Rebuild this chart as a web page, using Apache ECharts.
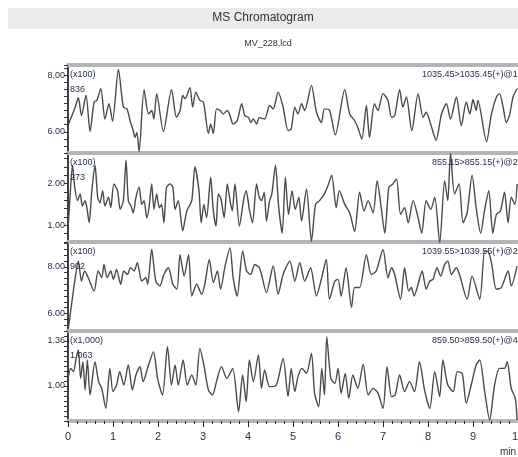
<!DOCTYPE html>
<html><head><meta charset="utf-8">
<script src="https://cdn.jsdelivr.net/npm/echarts@6/dist/echarts.min.js"></script>
<style>html,body{margin:0;padding:0;background:#fff}#c{width:518px;height:457px}</style>
</head><body><div id="c"></div>
<script>
// ---- data ----
const t1=[0.01,0.16,0.23,0.30,0.40,0.49,0.58,0.64,0.73,0.82,0.91,0.99,1.12,1.23,1.31,1.38,1.45,1.49,1.53,1.58,1.69,1.79,1.86,1.91,1.97,2.12,2.30,2.41,2.49,2.55,2.60,2.71,2.77,2.84,2.93,3.01,3.12,3.17,3.23,3.30,3.38,3.45,3.54,3.60,3.67,3.76,3.86,3.93,4.01,4.06,4.12,4.19,4.25,4.37,4.48,4.56,4.67,4.78,4.89,4.96,5.04,5.11,5.19,5.26,5.41,5.52,5.63,5.70,5.81,5.94,6.15,6.26,6.37,6.44,6.53,6.63,6.70,6.81,6.89,7.00,7.11,7.19,7.26,7.37,7.44,7.52,7.64,7.78,7.89,7.96,8.07,8.18,8.30,8.41,8.50,8.63,8.74,8.85,8.93,9.00,9.07,9.11,9.30,9.41,9.52,9.59,9.67,9.74,9.81,9.89,9.98];
const v1=[6.27,6.87,7.20,6.57,7.29,6.01,7.05,7.11,7.52,6.45,6.99,6.37,8.20,6.87,6.81,6.39,6.04,5.80,5.98,5.30,7.49,6.63,6.75,6.45,7.35,6.01,7.49,6.51,6.75,7.29,7.17,7.56,6.87,7.40,7.11,7.05,5.94,6.27,5.94,6.81,6.75,6.63,6.75,6.57,6.27,6.39,6.99,6.57,6.51,6.33,6.45,6.27,6.50,6.45,6.93,6.81,7.40,6.87,6.04,6.10,6.87,6.63,6.99,6.75,7.64,6.69,6.33,6.81,6.77,5.89,7.49,6.63,6.39,6.15,5.74,6.93,5.80,6.99,6.75,7.35,7.11,6.51,6.57,7.49,6.87,7.23,6.04,7.35,6.51,6.69,6.21,5.70,6.63,6.99,6.45,7.23,6.21,7.05,6.63,7.14,6.75,7.11,5.65,6.63,7.23,7.35,6.87,6.33,6.57,7.23,7.52];

const t2=[0.01,0.04,0.10,0.15,0.21,0.27,0.32,0.38,0.42,0.47,0.53,0.60,0.66,0.71,0.77,0.82,0.90,0.95,1.02,1.10,1.16,1.23,1.29,1.34,1.40,1.45,1.51,1.58,1.64,1.69,1.75,1.80,1.86,1.91,1.97,2.03,2.08,2.13,2.19,2.27,2.33,2.38,2.45,2.55,2.64,2.75,2.82,2.91,2.96,3.02,3.08,3.17,3.23,3.29,3.34,3.40,3.47,3.54,3.60,3.65,3.71,3.81,3.90,3.96,4.03,4.10,4.19,4.25,4.30,4.36,4.41,4.48,4.53,4.61,4.68,4.76,4.83,4.90,4.98,5.05,5.13,5.19,5.30,5.41,5.50,5.59,5.70,5.79,5.86,5.96,6.03,6.15,6.26,6.37,6.48,6.58,6.67,6.78,6.87,6.96,7.04,7.13,7.22,7.30,7.39,7.48,7.56,7.67,7.78,7.86,7.96,8.06,8.15,8.26,8.37,8.44,8.50,8.59,8.69,8.78,8.87,8.98,9.07,9.17,9.26,9.35,9.44,9.52,9.61,9.70,9.78,9.85,9.93,9.98];
const v2=[1.06,1.59,2.44,1.91,1.59,1.75,1.46,1.59,1.42,1.06,1.83,2.44,1.67,1.54,1.83,1.46,1.67,1.42,1.99,1.83,1.38,1.59,2.56,1.59,1.46,1.30,1.67,1.91,1.50,1.59,1.18,1.42,1.99,1.38,1.75,1.42,1.50,1.06,1.91,1.99,1.91,1.38,1.59,0.87,1.34,1.59,2.40,1.83,1.06,1.50,1.18,2.15,1.34,0.98,1.75,1.63,1.18,1.99,1.59,1.34,1.99,0.98,1.59,1.83,1.38,1.06,1.99,1.67,1.59,1.79,1.10,1.59,1.75,2.44,1.46,0.81,2.15,1.26,1.83,1.38,1.67,1.10,1.87,0.61,1.50,1.59,1.75,1.99,2.20,1.42,1.83,1.50,1.30,0.85,1.79,1.34,1.59,1.30,2.07,1.42,0.81,1.91,1.99,2.11,1.26,1.42,1.06,1.59,1.18,0.81,1.59,1.38,1.67,0.58,2.07,1.59,2.72,1.75,1.99,1.06,1.30,2.20,1.42,0.81,1.38,1.83,0.81,1.26,1.34,1.79,1.06,1.67,1.50,1.99];

const t3=[0.01,0.08,0.15,0.23,0.30,0.37,0.45,0.58,0.67,0.75,0.80,0.87,0.95,1.01,1.08,1.17,1.24,1.32,1.39,1.47,1.54,1.64,1.73,1.77,1.86,1.95,2.04,2.13,2.23,2.33,2.42,2.49,2.58,2.68,2.75,2.86,2.97,3.04,3.14,3.23,3.32,3.39,3.49,3.60,3.67,3.76,3.88,3.97,4.06,4.15,4.25,4.30,4.41,4.56,4.67,4.78,4.93,5.04,5.15,5.26,5.39,5.52,5.62,5.74,5.81,5.93,6.00,6.07,6.18,6.30,6.37,6.48,6.63,6.74,6.85,7.00,7.11,7.19,7.26,7.39,7.48,7.57,7.63,7.69,7.78,7.87,7.96,8.04,8.11,8.20,8.28,8.37,8.44,8.52,8.63,8.70,8.87,8.98,9.15,9.26,9.33,9.41,9.52,9.63,9.78,9.85,9.98];
const v3=[5.40,6.40,7.39,8.24,7.39,7.82,7.53,6.96,7.82,7.53,8.10,7.53,7.82,7.46,7.89,7.25,7.82,7.67,7.96,7.82,8.17,7.39,7.53,7.25,8.74,7.39,7.18,7.67,7.96,7.25,7.04,8.52,7.60,8.52,6.75,7.25,6.82,7.25,8.31,7.32,7.82,7.04,8.03,8.81,7.53,6.75,8.67,7.82,7.67,8.10,7.96,7.67,6.89,8.03,6.82,7.67,8.24,7.39,8.17,7.39,7.96,6.75,7.39,8.31,6.61,7.39,7.46,6.75,7.96,6.26,7.11,7.11,8.52,7.67,7.82,8.74,7.53,7.96,7.67,6.61,7.96,6.96,7.11,6.75,7.25,7.82,7.04,7.39,7.46,7.96,7.60,8.10,8.24,7.67,7.96,7.67,6.61,7.60,6.61,8.67,8.67,8.17,7.04,7.11,7.82,7.18,8.03];

const t4=[0.01,0.06,0.12,0.18,0.23,0.28,0.33,0.38,0.43,0.49,0.60,0.68,0.75,0.84,0.93,1.00,1.08,1.15,1.24,1.34,1.43,1.51,1.60,1.67,1.79,1.90,1.99,2.10,2.21,2.30,2.38,2.45,2.56,2.65,2.75,2.84,2.93,3.02,3.12,3.21,3.30,3.41,3.53,3.66,3.79,3.88,3.96,4.03,4.12,4.23,4.30,4.37,4.48,4.63,4.78,4.89,4.96,5.04,5.11,5.20,5.30,5.41,5.48,5.57,5.64,5.70,5.75,5.84,5.93,6.00,6.07,6.16,6.24,6.33,6.44,6.56,6.67,6.78,6.89,7.00,7.09,7.19,7.27,7.37,7.48,7.59,7.70,7.81,7.93,8.04,8.15,8.26,8.33,8.44,8.56,8.65,8.76,8.85,8.96,9.07,9.15,9.26,9.37,9.48,9.59,9.70,9.76,9.85,9.94,9.98];
const v4=[1.074,1.141,1.115,1.221,1.288,1.061,1.194,0.968,1.208,0.928,1.194,1.035,0.981,0.821,1.141,0.955,1.008,1.115,1.008,1.168,0.968,1.088,1.155,1.035,1.168,1.275,1.061,0.928,1.315,1.008,1.168,1.008,1.208,1.008,1.088,1.008,1.301,1.168,0.968,0.928,1.035,1.155,1.061,1.141,0.795,1.088,0.875,1.208,1.035,1.248,0.981,1.128,0.995,1.008,1.221,0.915,1.141,0.955,1.075,1.141,1.101,1.261,0.941,0.835,1.141,0.928,1.395,1.061,1.021,1.141,0.941,1.101,0.901,1.088,0.981,1.175,0.928,0.981,0.941,0.821,1.155,0.915,0.928,1.088,0.955,1.035,0.955,1.194,0.955,0.821,1.115,0.915,1.208,1.008,0.955,1.115,1.101,0.861,1.008,1.168,1.208,0.955,0.728,1.008,1.141,1.141,1.194,0.981,0.901,0.728];

const yLabelVals=[[6,8],[1,2],[6,8],[1,1.36]];
const yRanges=[[5.25,8.36,0.25],[0.6,2.73,0.2],[5.25,9.06,0.25],[0.72,1.44,0.04]];
const scaleLabels=['(x100)','(x100)','(x100)','(x1,000)'];
const maxLabels=['836','273','902','1.063'];
const mrmLabels=['1035.45>1035.45(+)@1','855.15>855.15(+)@2','1039.55>1039.55(+)@2','859.50>859.50(+)@4'];
const xTickLabels=[0,1,2,3,4,5,6,7,8,9,10];
const titleText='MS Chromatogram';
const subText='MV_228.lcd';
const xUnit='min';

// ---- layout ----
const tops=[65,153,242,331], hs=[88,89,89,90];
const ts=[t1,t2,t3,t4], vs=[v1,v2,v3,v4];
const txtColor='#1d2a4a', font='Liberation Sans';
const band={color:'#b5b5b5',width:4};

const grids=tops.map((t,i)=>({left:68,right:0,top:t,height:hs[i],outerBoundsMode:'none',containLabel:false}));
const xAxes=tops.map((t,i)=>({
  type:'value',gridIndex:i,min:0,max:10,interval:1,position:'bottom',
  axisLine:{show:true,lineStyle:band},
  axisTick:{show:i===3,length:6,inside:false,lineStyle:{color:'#222',width:1}},
  minorTick:{show:i===3,splitNumber:5,length:3,lineStyle:{color:'#222',width:1}},
  axisLabel:{show:i===3,margin:10,fontSize:11,fontFamily:font,color:txtColor,
    formatter:v=>xTickLabels.includes(Math.round(v))?String(Math.round(v)):''},
  splitLine:{show:false}
}));
xAxes.push({type:'value',gridIndex:0,min:0,max:10,position:'top',
  axisLine:{show:true,lineStyle:band},axisTick:{show:false},axisLabel:{show:false},splitLine:{show:false}});

const yAxes=yRanges.map((r,i)=>({
  type:'value',gridIndex:i,min:r[0],max:r[1],interval:r[2],
  axisLine:{show:true,onZero:false,lineStyle:{color:'#000',width:1.5}},
  axisTick:{show:true,length:4,lineStyle:{color:'#333',width:1}},
  axisLabel:{margin:3,fontSize:9,fontFamily:font,color:txtColor,
    formatter:v=>yLabelVals[i].some(l=>Math.abs(l-v)<1e-6)?v.toFixed(2):''},
  splitLine:{show:false}
}));

const series=ts.map((t,i)=>({
  type:'line',xAxisIndex:i,yAxisIndex:i,showSymbol:false,smooth:0.25,
  data:t.map((x,k)=>[x,vs[i][k]]),
  lineStyle:{color:'#4a4a4a',width:1.4},animation:false,clip:true
}));

const graphic=[
  {type:'rect',left:8,top:8,shape:{width:510,height:21},style:{fill:'#ebebeb'},z:-1},
  {type:'text',x:263,y:18,style:{text:titleText,fill:'#333',font:'12px "Liberation Sans"',textAlign:'center',textVerticalAlign:'middle'}},
  {type:'text',x:268,y:44,style:{text:subText,fill:'#333',font:'9px "Liberation Sans"',textAlign:'center',textVerticalAlign:'middle'}},
  {type:'text',x:500,y:452,style:{text:xUnit,fill:txtColor,font:'10px "Liberation Sans"',textAlign:'left',textVerticalAlign:'middle'}}
];
tops.forEach((t,i)=>{
  graphic.push({type:'text',x:70,y:t+10,z:10,style:{text:scaleLabels[i],fill:txtColor,font:'9px "Liberation Sans"',textVerticalAlign:'middle'}});
  graphic.push({type:'text',x:70,y:t+25,z:10,style:{text:maxLabels[i],fill:txtColor,font:'9px "Liberation Sans"',textVerticalAlign:'middle'}});
  graphic.push({type:'text',x:i%2===0?422:432,y:t+10,z:10,style:{text:mrmLabels[i],fill:txtColor,font:'9px "Liberation Sans"',textVerticalAlign:'middle'}});
});

const chart=echarts.init(document.getElementById('c'),null,{renderer:'canvas'});
chart.setOption({animation:false,backgroundColor:'#fff',grid:grids,xAxis:xAxes,yAxis:yAxes,series:series,graphic:graphic});
</script></body></html>
